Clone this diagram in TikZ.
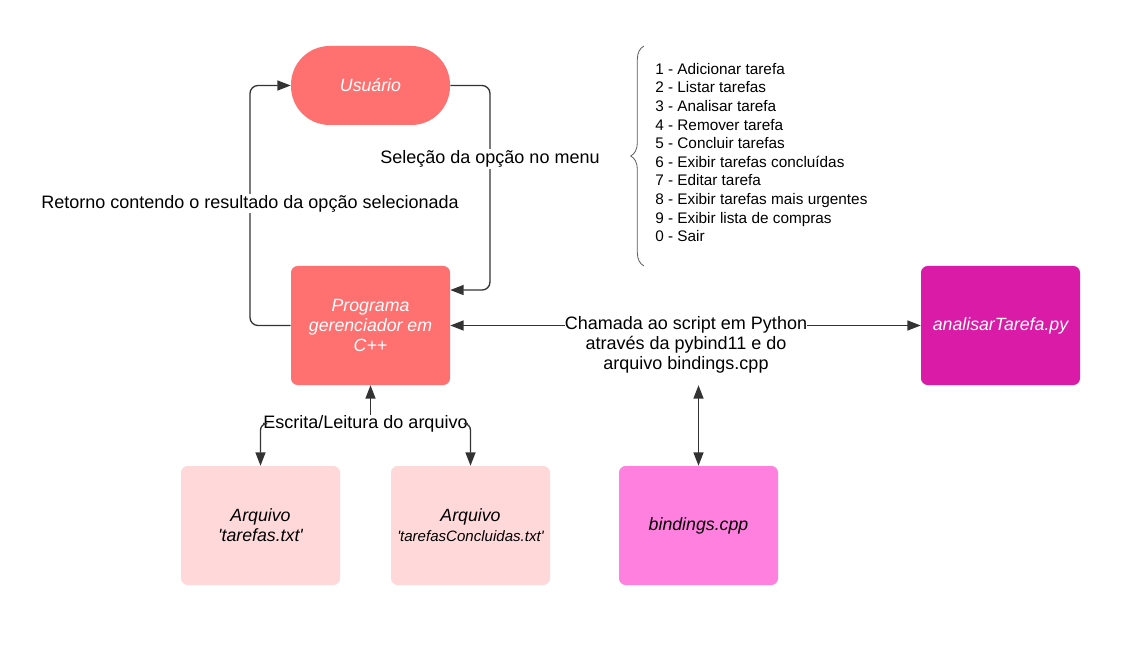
\documentclass[tikz,border=0pt]{standalone}
\usepackage{fontspec}
\setmainfont{Liberation Sans}[Ligatures=TeXOff]
\usetikzlibrary{arrows.meta,decorations.pathreplacing,calc}
\definecolor{salmon}{HTML}{FF7171}
\definecolor{magentab}{HTML}{D91BA8}
\definecolor{pinkb}{HTML}{FF80DF}
\definecolor{lightp}{HTML}{FFD9D9}
\definecolor{lineg}{HTML}{333333}
\begin{document}
\begin{tikzpicture}[x=0.75pt,y=-0.75pt,
  box/.style={rounded corners=5pt, minimum width=119.25pt, minimum height=89.25pt, inner sep=0pt, align=center, font=\fontsize{13.3}{15.2}\selectfont\itshape},
  tip/.tip={Triangle[length=10pt,width=7.5pt]},
  conn/.style={draw=lineg, line width=1pt, -tip},
  both/.style={draw=lineg, line width=1pt, tip-tip},
  lbl/.style={fill=white, inner sep=1pt, font=\fontsize{13.5}{15}\selectfont, align=center}]
\useasboundingbox[fill=white] (0,0) rectangle (1129,663);

\node[box, fill=salmon, text=white, rounded corners=29pt, minimum height=59.25pt] (user) at (370.5,85.5) {Usuário};
\node[box, fill=salmon, text=white] (prog) at (370.5,325.5) {Programa\\gerenciador em\\C++};
\node[box, fill=magentab, text=white] (ana) at (1000.5,325.5) {analisarTarefa.py};
\node[box, fill=pinkb] (bind) at (698.5,525.5) {bindings.cpp};
\node[box, fill=lightp] (tar) at (260.5,525.5) {Arquivo\\'tarefas.txt'};
\node[box, fill=lightp] (conc) at (470.5,525.5) {Arquivo\\{\fontsize{11.3}{15.2}\selectfont 'tarefasConcluidas.txt'}};

% user -> programa
\draw[conn, rounded corners=6pt] (user.east) -| (490,200) |- ([yshift=26.6pt]prog.east);
\node[lbl] (sel) at (490,159) {Seleção da opção no menu};

% programa -> user
\draw[conn, rounded corners=6pt] (prog.west) -| (250,200) |- (user.west);
\node[lbl] (ret) at (250,203.5) {Retorno contendo o resultado da opção selecionada};

% programa <-> analisar
\draw[both] (prog.east) -- (ana.west);
\node[lbl, inner sep=0pt] (call) at (686,345) {Chamada ao script em Python\\através da pybind11 e do\\arquivo bindings.cpp};

% bindings <-> call
\draw[both] (bind.north) -- (bind.north |- prog.south);

% escrita / leitura
\node[lbl, inner sep=0pt] (esc) at (365.5,423.5) {Escrita/Leitura do arquivo};
\draw[conn] (prog.south |- esc.north) -- (prog.south);
\draw[conn, rounded corners=5pt] (esc.west) -| (tar.north);
\draw[conn, rounded corners=5pt] (esc.east) -| (conc.north);

% brace and menu
\draw[lineg!80, line width=0.6pt, decorate, decoration={brace, amplitude=10pt}] (644,266) -- (644,46);
\node[anchor=west, inner sep=0pt, align=left, font=\fontsize{11.5}{13.95}\selectfont] (menu) at (655,152.5) {1 - Adicionar tarefa\\2 - Listar tarefas\\3 - Analisar tarefa\\4 - Remover tarefa\\5 - Concluir tarefas\\6 - Exibir tarefas concluídas\\7 - Editar tarefa\\8 - Exibir tarefas mais urgentes\\9 - Exibir lista de compras\\0 - Sair};
\end{tikzpicture}
\end{document}
